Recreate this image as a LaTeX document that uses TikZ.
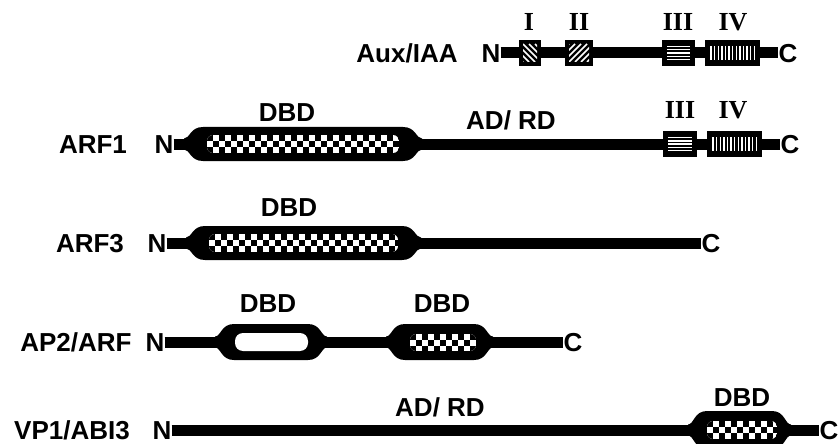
\documentclass[tikz,border=0pt]{standalone}
\usepackage{fontspec}
\setmainfont{Liberation Sans}
\newfontfamily\romfont{Liberation Serif}
\newcommand\mypill[4]{%
  \fill (#1-4,#3-5.5) .. controls (#1+2,#3-5.5) and (#1+2,#3-#4) .. (#1+15,#3-#4)
    -- (#2-15,#3-#4) .. controls (#2-2,#3-#4) and (#2-2,#3-5.5) .. (#2+4,#3-5.5)
    -- (#2+4,#3+5.5) .. controls (#2-2,#3+5.5) and (#2-2,#3+#4) .. (#2-15,#3+#4)
    -- (#1+15,#3+#4) .. controls (#1+2,#3+#4) and (#1+2,#3+5.5) .. (#1-4,#3+5.5) -- cycle;}
\newcommand\mychk[4]{%
  \begin{scope}
    \clip[rounded corners=6pt] (#1,#2) rectangle (#3,#4);
    \fill[white] (#1,#2) rectangle (#3,#4);
    \pgfmathtruncatemacro\ncols{(#3-#1)/6}
    \pgfmathtruncatemacro\nrows{(#4-#2)/6}
    \foreach \i in {0,...,\ncols}{\foreach \j in {0,...,\nrows}{%
      \pgfmathtruncatemacro\chkp{mod(\i+\j,2)}%
      \ifnum\chkp=0 \fill (#1+\i*6,#2+\j*6) rectangle ++(6,6);\fi}}
  \end{scope}}
\begin{document}
\begin{tikzpicture}[x=1pt,y=-1pt,
  lbl/.style={font=\bfseries\fontsize{26}{26}\selectfont, inner sep=0pt, text height=18.5pt, text depth=0pt},
  rom/.style={font=\romfont\bfseries\fontsize{26}{26}\selectfont, inner sep=0pt, text height=17pt, text depth=0pt},
  backbone/.style={line width=11pt},
  hatch/.style={white, line width=1.6pt}]
\useasboundingbox (0,0) rectangle (839,444);

% ---------- Row 1: Aux/IAA ----------
\node[lbl] (aux) at (407,53) {Aux/IAA};
\node[lbl] (n1) at (491,53) {N};
\node[lbl] (c1) at (788,53) {C};
\draw[backbone] (n1.east) -- (c1.west);
% box I
\fill (519,40) rectangle (541,66);
\begin{scope}\clip (523,44) rectangle (537,62);
  \foreach \k in {-24,-18,...,18} \draw[hatch] (523+\k,44) -- ++(18,18);
\end{scope}
% box II
\fill (565,40) rectangle (593,66);
\begin{scope}\clip (569,44) rectangle (589,62);
  \foreach \k in {-24,-18,...,24} \draw[hatch] (569+\k,62) -- ++(18,-18);
\end{scope}
% box III
\fill (662,40) rectangle (695,66);
\foreach \k in {0,...,4} \draw[white,line width=1.4pt] (667,46.5+\k*3.3) -- (690,46.5+\k*3.3);
% box IV
\fill (705,40) rectangle (760,66);
\foreach \k in {0,...,12} \draw[white,line width=1.4pt] (711+\k*3.6,46) -- (711+\k*3.6,60);
\node[rom] (r1) at (529,22) {I};
\node[rom] (r2) at (579,22) {II};
\node[rom] (r3) at (678,22) {III};
\node[rom] (r4) at (733,22) {IV};

% ---------- Row 2: ARF1 ----------
\node[lbl] (arf1) at (93,144) {ARF1};
\node[lbl] (n2) at (164,144) {N};
\node[lbl] (c2) at (790,144) {C};
\draw[backbone] (n2.east) -- (c2.west);
\mypill{188}{418}{144}{17}
\mychk{207}{135}{399}{153}
\node[lbl] (dbd2) at (287,112) {DBD};
\node[lbl] (adrd2) at (511,120) {AD/ RD};
\fill (663,131) rectangle (697,157);
\foreach \k in {0,...,4} \draw[white,line width=1.4pt] (668,137.5+\k*3.3) -- (692,137.5+\k*3.3);
\fill (707,131) rectangle (762,157);
\foreach \k in {0,...,12} \draw[white,line width=1.4pt] (713+\k*3.6,137) -- (713+\k*3.6,151);
\node[rom] (r5) at (680,110) {III};
\node[rom] (r6) at (733,110) {IV};

% ---------- Row 3: ARF3 ----------
\node[lbl] (arf3) at (90,243) {ARF3};
\node[lbl] (n3) at (157,243) {N};
\node[lbl] (c3) at (711,243) {C};
\draw[backbone] (n3.east) -- (c3.west);
\mypill{190}{417}{243}{17}
\mychk{209}{234}{398}{252}
\node[lbl] (dbd3) at (289,207) {DBD};

% ---------- Row 4: AP2/ARF ----------
\node[lbl] (ap2) at (76,342) {AP2/ARF};
\node[lbl] (n4) at (155,342) {N};
\node[lbl] (c4) at (573,342) {C};
\draw[backbone] (n4.east) -- (c4.west);
\mypill{219}{323}{342}{18}
\fill[white, rounded corners=8pt] (235,333) rectangle (308,351);
\mypill{390}{489}{342}{18}
\mychk{410}{334}{476}{351}
\node[lbl] (dbd4a) at (268,303) {DBD};
\node[lbl] (dbd4b) at (442,303) {DBD};

% ---------- Row 5: VP1/ABI3 ----------
\node[lbl] (vp1) at (72,430) {VP1/ABI3};
\node[lbl] (n5) at (162,430) {N};
\node[lbl] (c5) at (829,430) {C};
\draw[backbone] (n5.east) -- (c5.west);
\mypill{692}{787}{430}{19}
\mychk{707}{421}{777}{439}
\node[lbl] (dbd5) at (742,397) {DBD};
\node[lbl] (adrd5) at (440,407) {AD/ RD};
\end{tikzpicture}
\end{document}
